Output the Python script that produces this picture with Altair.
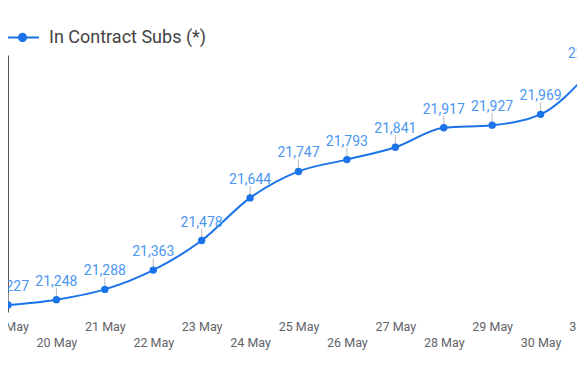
import altair as alt
import pandas as pd

dates = ["2023-05-19", "2023-05-20", "2023-05-21", "2023-05-22", "2023-05-23",
         "2023-05-24", "2023-05-25", "2023-05-26", "2023-05-27", "2023-05-28",
         "2023-05-29", "2023-05-30", "2023-05-31"]
values = [21227, 21248, 21288, 21363, 21478, 21644, 21747, 21793, 21841,
          21917, 21927, 21969, 22132]
series_name = "In Contract Subs (*)"

df = pd.DataFrame({"date": dates, "value": values,
                   "series": [series_name] * len(dates)})

tick_ms = [int(pd.Timestamp(d, tz="UTC").value // 10**6) for d in dates]

LINE = "#1a73e8"
LABEL = "#4a96f0"

x_enc = alt.X(
    "date:T",
    scale=alt.Scale(type="utc", domain=[tick_ms[0], tick_ms[-1]], range=[0, 581]),
    axis=alt.Axis(
        title=None, values=tick_ms, format="%-d %b", domain=False, ticks=False,
        grid=False, labelFont="Roboto", labelFontSize=12.5, labelColor="#5f6368",
        labelPadding=8, labelFlush=False, labelOverlap=False, labelLineHeight=16.5,
        labelBaseline="top",
        labelExpr="utcdate(datum.value) % 2 == 0 ? ['', datum.label] : datum.label",
    ),
)
y_enc = alt.Y(
    "value:Q",
    scale=alt.Scale(domain=[21200, 22200], nice=False, zero=False),
    axis=alt.Axis(title=None, labels=False, ticks=False, grid=False,
                  domain=True, domainColor="#555", domainWidth=1),
)

sym = "M-1,0L1,0M0.22,0A0.22,0.22,0,1,1,-0.22,0A0.22,0.22,0,1,1,0.22,0Z"
color_enc = alt.Color(
    "series:N",
    scale=alt.Scale(range=[LINE]),
    legend=alt.Legend(
        orient="none", legendX=-3, legendY=-35, title=None, symbolType=sym,
        symbolSize=1089, symbolStrokeWidth=2, symbolFillColor=LINE,
        symbolStrokeColor=LINE, labelFont="Roboto", labelFontSize=18,
        labelColor="#444", labelOffset=9, padding=0, labelLimit=400,
    ),
)

base = alt.Chart(df)
line = base.mark_line(interpolate="monotone", strokeWidth=2).encode(
    x=x_enc, y=y_enc, color=color_enc)
rules = base.mark_rule(color="#bbbbbb", strokeWidth=1, yOffset=-12, y2Offset=0).encode(
    x="date:T", y="value:Q", y2="value:Q")
points = base.mark_circle(size=55, opacity=1, color=LINE).encode(
    x="date:T", y="value:Q")
labels = base.mark_text(dy=-14, baseline="alphabetic", font="Roboto",
                        fontSize=14, color=LABEL).encode(
    x="date:T", y="value:Q", text=alt.Text("value:Q", format=","))

chart = alt.layer(line, rules, points, labels).properties(
    width=569, height=257, autosize="none",
    padding={"left": 0, "top": 47, "right": 0, "bottom": 47},
).configure_view(stroke=None)

chart.save("out.html", embed_options={"renderer": "svg", "actions": False})
